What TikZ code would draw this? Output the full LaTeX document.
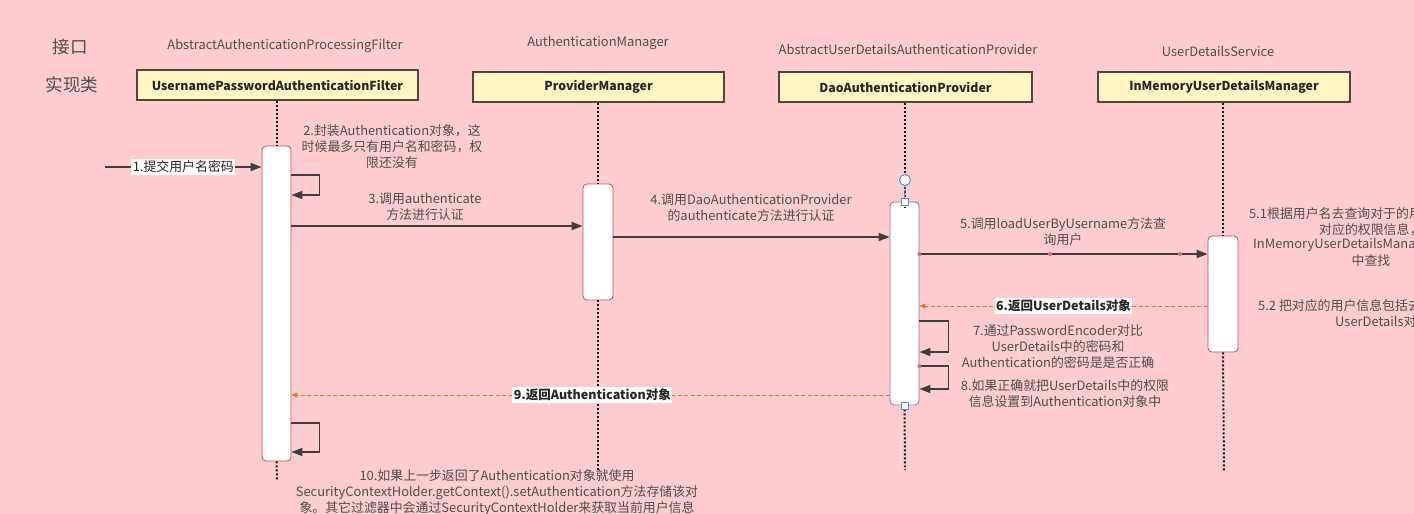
\documentclass[tikz,border=0pt]{standalone}
\usepackage{fontspec}
\setmainfont{Noto Sans CJK SC}
\usetikzlibrary{arrows.meta}
\definecolor{bgpink}{RGB}{255,205,207}
\definecolor{hdrfill}{RGB}{255,246,196}
\definecolor{hdrborder}{RGB}{80,70,62}
\definecolor{actborder}{RGB}{185,80,80}
\definecolor{selborder}{RGB}{140,110,140}
\definecolor{handle}{RGB}{80,140,215}
\definecolor{retorange}{RGB}{228,118,40}
\definecolor{linedark}{RGB}{62,62,62}
\definecolor{txtgray}{RGB}{78,78,78}
\tikzset{
  hdr/.style={draw=hdrborder, fill=hdrfill, line width=1.2pt, minimum height=30pt,
    inner sep=0pt, font=\bfseries\fontsize{12.3}{14}\selectfont, text=black!85},
  ifc/.style={text=txtgray, font=\fontsize{12.9}{15}\selectfont},
  side/.style={text=txtgray, font=\fontsize{17.5}{20}\selectfont},
  act/.style={draw=actborder, fill=white, rounded corners=4pt, line width=0.8pt,
    minimum width=29pt, inner sep=0pt},
  life/.style={line width=2pt, dash pattern=on 2pt off 2pt, black!90},
  msg/.style={draw=linedark, line width=1.8pt, -{Triangle[length=11pt,width=8pt]}},
  ret/.style={draw=retorange, line width=1pt, dash pattern=on 4pt off 2.5pt,
    -{Triangle[length=6pt,width=5pt]}},
  lbl/.style={text=txtgray, align=center, font=\fontsize{12.9}{16}\selectfont, inner sep=0pt},
  wlbl/.style={fill=white, text=black!85, inner sep=1.5pt, font=\fontsize{12.9}{15}\selectfont},
  blbl/.style={fill=white, text=black!85, inner sep=1.5pt, font=\bfseries\fontsize{12.5}{15}\selectfont},
  rdot/.style={fill=actborder!80, draw=none, circle, minimum size=4pt, inner sep=0pt},
}
\begin{document}
\begin{tikzpicture}[x=1pt,y=-1pt]
\useasboundingbox (0,0) rectangle (1414,514);
\fill[bgpink] (0,0) rectangle (1414,514);
\begin{scope}
\clip (0,0) rectangle (1414,514);

% side labels
\node[side] (jk) at (70,47) {接口};
\node[side] (sxl) at (72,85) {实现类};

% interface labels
\node[ifc] (i1) at (285,46) {AbstractAuthenticationProcessingFilter};
\node[ifc] (i2) at (598,43) {AuthenticationManager};
\node[ifc] (i3) at (908,49) {AbstractUserDetailsAuthenticationProvider};
\node[ifc] (i4) at (1218,51) {UserDetailsService};

% header boxes
\node[hdr, minimum width=281pt] (h1) at (277.5,85) {UsernamePasswordAuthenticationFilter};
\node[hdr, minimum width=251pt] (h2) at (598.5,87) {ProviderManager};
\node[hdr, minimum width=253pt] (h3) at (905.5,87) {DaoAuthenticationProvider};
\node[hdr, minimum width=252pt] (h4) at (1224,87) {InMemoryUserDetailsManager};

% activations
\node[act, minimum height=315pt] (fa) at (276.5,303.5) {};
\node[act, minimum width=30pt, minimum height=116pt] (pa) at (598,242) {};
\node[act, draw=selborder, minimum height=203pt] (da) at (904.5,303.5) {};
\node[act, minimum width=30pt, minimum height=116pt] (ua) at (1223,294) {};

% lifeline ends
\coordinate (e1) at (277,480);
\coordinate (e2) at (598,472);
\coordinate (e3) at (905,470);
\coordinate (e4) at (1224,472);

% lifelines
\draw[life] (h1.south -| fa.north) -- (fa.north);
\draw[life] (fa.south) -- (e1);
\draw[life] (h2.south -| pa.north) -- (pa.north);
\draw[life] (pa.south) -- (e2);
\draw[life] (h3.south -| da.north) -- ([yshift=-6pt]da.north);
\draw[life] (da.south) -- (e3);
\draw[life] (h4.south -| ua.north) -- (ua.north);
\draw[life] (ua.south) -- (e4);

% selection handles on Dao activation
\node[circle, draw=handle, fill=white, line width=1pt, minimum size=11pt, inner sep=0pt] (hc) at (905,180) {};
\node[draw=handle, fill=white, line width=0.8pt, minimum size=7pt, inner sep=0pt] (hs1) at (da.north) {};
\node[draw=handle, fill=white, line width=0.8pt, minimum size=7pt, inner sep=0pt] (hs2) at (da.south) {};
\draw[handle, line width=0.9pt] (hc.south) -- (hs1.north);

% message y-levels
\coordinate (m1) at (105,167);
\coordinate (s2a) at (0,175);
\coordinate (s2b) at (0,195);
\coordinate (m3) at (0,226);
\coordinate (m4) at (0,237);
\coordinate (m5) at (0,254);
\coordinate (m6) at (0,306);
\coordinate (s7a) at (0,321);
\coordinate (s7b) at (0,352);
\coordinate (s8a) at (0,366);
\coordinate (s8b) at (0,389);
\coordinate (m9) at (0,395);
\coordinate (s10a) at (0,423);
\coordinate (s10b) at (0,452);

% 1
\draw[msg] (m1) -- (fa.west |- m1) node[pos=0.5, wlbl] (l1) {1.提交用户名密码};
% 2 self
\draw[msg] (fa.east |- s2a) -- ++(28,0) |- (fa.east |- s2b);
\node[lbl] (l2) at (392,147) {2.封装Authentication对象，这\\时候最多只有用户名和密码，权\\限还没有};
% 3
\draw[msg] (fa.east |- m3) -- (pa.west |- m3);
\node[lbl] (l3) at (425,207) {3.调用authenticate\\方法进行认证};
% 4
\draw[msg] (pa.east |- m4) -- (da.west |- m4);
\node[lbl] (l4) at (751,208) {4.调用DaoAuthenticationProvider\\的authenticate方法进行认证};
% 5
\draw[msg] (da.east |- m5) -- (ua.west |- m5);
\node[lbl] (l5) at (1063,232) {5.调用loadUserByUsername方法查\\询用户};
\node[rdot] (d1) at (da.east |- m5) {};
\node[rdot] (d2) at (1050,254) {};
\node[rdot] (d3) at (1180,254) {};
% 5.1 / 5.2 (cut off at the right edge, as in the reference)
\node[lbl, anchor=west] (l51a) at (1249,214) {5.1根据用户名去查询对于的用户信息};
\node[lbl, anchor=west] (l51b) at (1319,230) {对应的权限信息，};
\node[lbl, anchor=west] (l51c) at (1253,245) {InMemoryUserDetailsManager};
\node[lbl] (l51d) at (1371,261) {中查找};
\node[lbl, anchor=west] (l52a) at (1258,306) {5.2 把对应的用户信息包括去封装成};
\node[lbl, anchor=west] (l52b) at (1335,322) {UserDetails对象};
% 6
\draw[ret] (ua.west |- m6) -- (da.east |- m6) node[pos=0.5, blbl] (l6) {6.返回UserDetails对象};
% 7 self
\draw[msg] (da.east |- s7a) -- ++(29,0) |- (da.east |- s7b);
\node[lbl] (l7) at (1058,347) {7.通过PasswordEncoder对比\\UserDetails中的密码和\\Authentication的密码是是否正确};
% 8 self
\draw[msg] (da.east |- s8a) -- ++(29,0) |- (da.east |- s8b);
\node[rdot] (d4) at (da.east |- s8a) {};
\node[lbl] (l8) at (1065,394) {8.如果正确就把UserDetails中的权限\\信息设置到Authentication对象中};
% 9
\draw[ret] (da.west |- m9) -- (fa.east |- m9) node[pos=0.497, blbl] (l9) {9.返回Authentication对象};
% 10 self
\draw[msg] (fa.east |- s10a) -- ++(28,0) |- (fa.east |- s10b);
\node[lbl] (l10) at (497,493) {10.如果上一步返回了Authentication对象就使用\\SecurityContextHolder.getContext().setAuthentication方法存储该对\\象。其它过滤器中会通过SecurityContextHolder来获取当前用户信息};
\end{scope}
\end{tikzpicture}
\end{document}
